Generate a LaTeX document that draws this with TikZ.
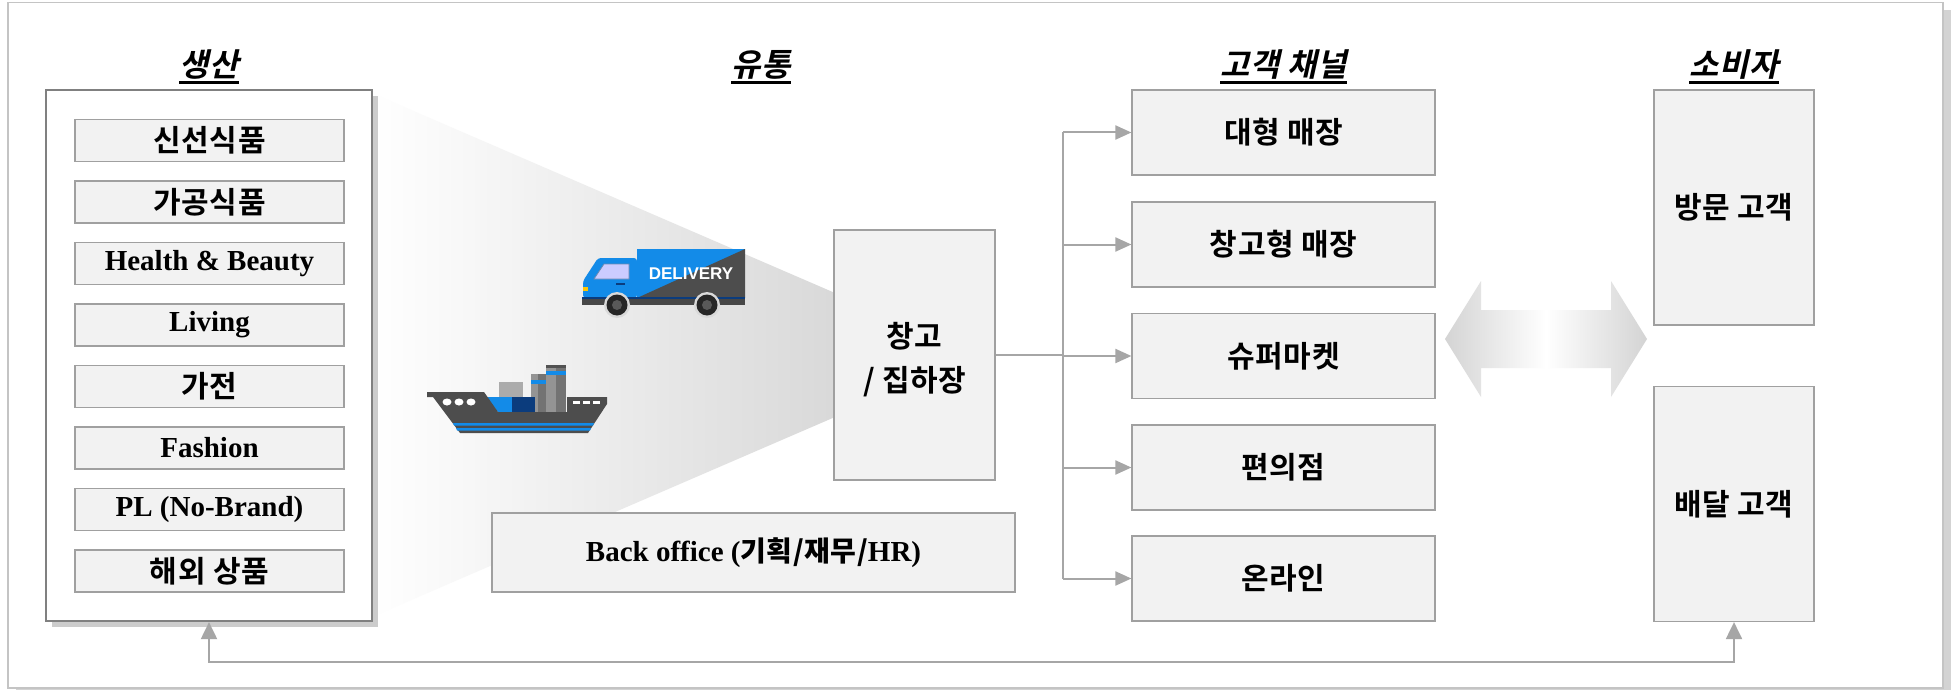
\documentclass[tikz,border=0pt]{standalone}
\usepackage{fontspec}
\setmainfont{Liberation Serif}
\newfontfamily\krb[LetterSpace=2]{Noto Sans CJK KR Bold}
\newfontfamily\krti[FakeSlant=0.22,LetterSpace=2]{Noto Sans CJK KR Bold}
\newfontfamily\truckfont{Liberation Sans}
\usetikzlibrary{arrows.meta,shadows,positioning}

\definecolor{boxfill}{HTML}{F2F2F2}
\definecolor{boxline}{HTML}{A0A0A0}
\definecolor{linegray}{HTML}{A6A6A6}
\definecolor{framegray}{HTML}{C4C4C4}
\definecolor{truckblue}{HTML}{138BE8}
\definecolor{hullgray}{HTML}{4D4D4D}
\definecolor{navy}{HTML}{0B3C7D}

% underlined heading
\newcommand{\ulhead}[1]{\setbox0=\hbox{#1}\rlap{\rule[-8pt]{\wd0}{3pt}}\box0}

\begin{document}
\begin{tikzpicture}[x=1pt, y=-1pt]
        \tikzset{
            box/.style={draw=boxline, fill=boxfill, line width=1.2pt, inner sep=0pt},
            item/.style={box, minimum width=269pt, minimum height=42pt},
            chan/.style={box, minimum width=303pt, minimum height=85pt},
            cust/.style={box, minimum width=160pt, minimum height=235pt},
            kr/.style={font=\krb\fontsize{30}{44}\selectfont},
            lat/.style={font=\bfseries\fontsize{29}{32}\selectfont},
            head/.style={font=\krti\fontsize{32}{34}\selectfont, inner sep=0pt},
            conn/.style={draw=linegray, line width=2pt, -{Triangle[length=16pt,width=14pt]}},
        }
        \useasboundingbox (0,0) rectangle (1953,690);

        % page frame
        \draw[draw=framegray, line width=1.5pt, fill=white,
              drop shadow={shadow xshift=8pt, shadow yshift=-8pt, opacity=0.35}]
            (8,2.5) rectangle (1943,688);

        % flow cone
        \shade[left color=white, right color=black!15]
            (372,93) -- (835,293) -- (835,417) -- (372,617) -- cycle;

        \begin{scope}
            \node[draw=black!50, fill=white, line width=2.2pt, minimum width=326pt, minimum height=531pt,
                  drop shadow={shadow xshift=6pt, shadow yshift=-6pt, opacity=0.4}]
                (prod) at (209,355.5) {};
            \node[item, kr] (fresh) at (209.5,140.5) {신선식품};
            \node[item, kr] (proc) at (209.5,202) {가공식품};
            \node[item, lat] (hb) at (209.5,263.5) {Health \& Beauty};
            \node[item, lat] (living) at (209.5,325) {Living};
            \node[item, kr] (appl) at (209.5,386.5) {가전};
            \node[item, lat] (fash) at (209.5,448) {Fashion};
            \node[item, lat] (pl) at (209.5,509.5) {PL (No-Brand)};
            \node[item, kr] (intl) at (209.5,571) {해외 상품};

            \node[box, kr, minimum width=161pt, minimum height=250pt, align=center, text height=78pt]
                (wh) at (914.5,355) {창고\\/ 집하장};
            \node[box, lat, minimum width=523pt, minimum height=79pt]
                (back) at (753.5,552.5) {Back office ({\krb\fontsize{28}{32}\selectfont 기획/재무/}HR)};

            \node[chan, kr] (hyper) at (1283.5,132.5) {대형 매장};
            \node[chan, kr] (whclub) at (1283.5,244.5) {창고형 매장};
            \node[chan, kr] (super) at (1283.5,356) {슈퍼마켓};
            \node[chan, kr] (conv) at (1283.5,467.5) {편의점};
            \node[chan, kr] (online) at (1283.5,578.5) {온라인};

            \node[cust, kr] (visit) at (1734,207.5) {방문 고객};
            \node[cust, kr] (home) at (1734,504) {배달 고객};

            \node[head] (tprod) at (209,67) {\ulhead{생산}};
            \node[head] (tdist) at (761,67) {\ulhead{유통}};
            \node[head] (tchan) at (1283.5,67) {\ulhead{고객 채널}};
            \node[head] (tcons) at (1734,67) {\ulhead{소비자}};
        \end{scope}

        % delivery truck
        \fill[truckblue] (637,249) rectangle (745,298);
        \fill[hullgray] (637,298) -- (745,249) -- (745,298) -- cycle;
        \node[font=\truckfont\bfseries\fontsize{17}{17}\selectfont, text=white, inner sep=0pt]
            (dlv) at (691,273.5) {DELIVERY};
        \fill[truckblue, rounded corners=3pt] (583,298) -- (583,281) -- (598,258) -- (637,258) -- (637,298) -- cycle;
        \fill[blue!20!white, draw=navy!60, line width=0.8pt] (594,279) -- (604,264) -- (629,264) -- (629,279) -- cycle;
        \fill[navy] (616,283) rectangle (625,285);
        \fill[yellow!60!orange] (583,287) rectangle (588,291);
        \fill[black!72] (582,297) rectangle (745,305);
        \fill[navy] (582,297) rectangle (745,299);
        \fill[black!15] (617,305) circle (13pt);
        \fill[black!85] (617,305) circle (10.5pt);
        \fill[black!65] (617,305) circle (5pt);
        \fill[black!15] (707,305) circle (13pt);
        \fill[black!85] (707,305) circle (10.5pt);
        \fill[black!65] (707,305) circle (5pt);

        % container ship
        \fill[black!55] (546,365) rectangle (566,412);
        \fill[black!42] (546,365) rectangle (556,412);
        \fill[black!68] (546,365) rectangle (566,368);
        \fill[truckblue] (546,371) rectangle (566,375);
        \fill[black!55] (531,374) rectangle (546,412);
        \fill[black!42] (531,374) rectangle (538,412);
        \fill[truckblue] (531,380) rectangle (546,384);
        \fill[black!33] (499,382) rectangle (523,397);
        \fill[truckblue] (486,397) -- (512,397) -- (512,412) -- (498,412) -- cycle;
        \fill[navy] (512,397) rectangle (535,412);
        \fill[hullgray] (427,392) -- (484,392) -- (498,412) -- (567,412) -- (567,397) -- (607,397)
            -- (607,404) -- (588,433) -- (460,433) -- (433,397) -- (427,397) -- cycle;
        \fill[white] (447,402) ellipse (4.5pt and 3.5pt);
        \fill[white] (459,402) ellipse (4.5pt and 3.5pt);
        \fill[white] (471,402) ellipse (4.5pt and 3.5pt);
        \fill[white] (573,401) rectangle (580,404);
        \fill[white] (583,401) rectangle (590,404);
        \fill[white] (593,401) rectangle (600,404);
        \fill[truckblue] (453,423) -- (594,423) -- (593,425.5) -- (454,425.5) -- cycle;
        \fill[truckblue] (456,428) -- (591,428) -- (590,430.5) -- (457,430.5) -- cycle;

        % two-way arrow between channels and customers
        \shade[left color=black!17, right color=black!17, middle color=white]
            (1445,339) -- (1481,281) -- (1481,310) -- (1611,310) -- (1611,281) -- (1647,339)
            -- (1611,397) -- (1611,368) -- (1481,368) -- (1481,397) -- cycle;

        \begin{scope}
            \coordinate (bus) at (1063,355);
            \coordinate (loop) at (0,662);
            \draw[draw=linegray, line width=2pt] (wh.east |- bus) -- (bus);
            \draw[draw=linegray, line width=2pt] (bus |- hyper.west) -- (bus |- online.west);
            \draw[conn] (bus |- hyper.west) -- (hyper.west);
            \draw[conn] (bus |- whclub.west) -- (whclub.west);
            \draw[conn] (bus |- super.west) -- (super.west);
            \draw[conn] (bus |- conv.west) -- (conv.west);
            \draw[conn] (bus |- online.west) -- (online.west);
            \draw[conn, {Triangle[length=17pt,width=16pt]}-{Triangle[length=17pt,width=16pt]}]
                (prod.south) -- (prod.south |- loop) -- (home.south |- loop) -- (home.south);
        \end{scope}

\end{tikzpicture}
\end{document}
